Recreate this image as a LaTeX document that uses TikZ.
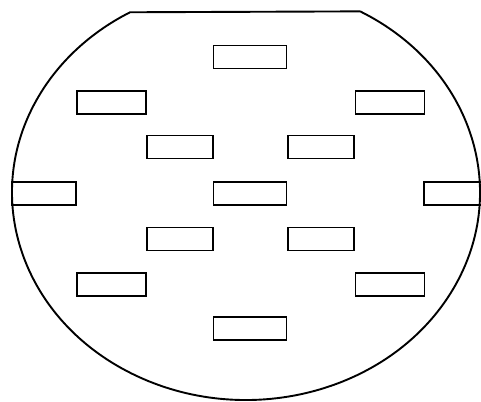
\documentclass[tikz,border=0pt]{standalone}
\begin{document}
\begin{tikzpicture}[x=1pt,y=1pt,
  slot/.style={draw, line width=1.9pt, inner sep=0pt, minimum height=23pt},
  wide/.style={slot, minimum width=73pt},
  mid/.style={slot, minimum width=69pt},
  narrow/.style={slot, minimum width=66pt},
  outline/.style={draw, line width=1.9pt}]
\useasboundingbox (0,0) rectangle (481,-401);
% outline: ellipse with flat top
\draw[outline] (246,-192.5) ++(60.8:234 and 207.5) coordinate (tr)
  arc[start angle=60.8, end angle=-240.3, x radius=234, y radius=207.5] coordinate (tl)
  -- (tr);
% slots
\node[wide]   (t)   at (250,-57) {};
\node[mid]    (l2)  at (111.5,-102.5) {};
\node[mid]    (r2)  at (390,-102.5) {};
\node[narrow] (l3)  at (180,-147) {};
\node[narrow] (r3)  at (321,-147) {};
\node[slot, minimum width=64pt] (l4) at (44,-193.5) {};
\node[wide]   (c4)  at (250,-193.5) {};
\node[slot, minimum width=66pt] (r4) at (457,-193.5) {};
\node[narrow] (l5)  at (180,-239) {};
\node[narrow] (r5)  at (321,-239) {};
\node[mid]    (l6)  at (111.5,-284.5) {};
\node[mid]    (r6)  at (390,-284.5) {};
\node[wide]   (b)   at (250,-328.5) {};
\end{tikzpicture}
\end{document}
